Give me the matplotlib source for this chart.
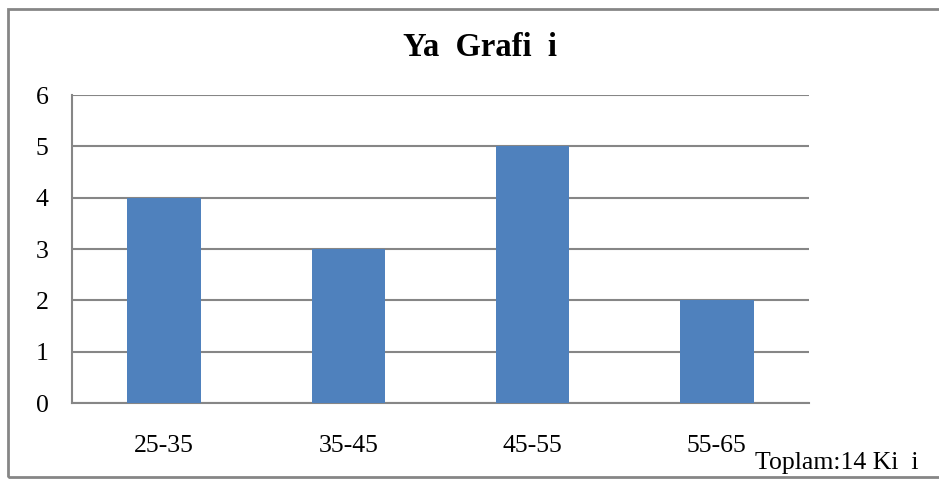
import matplotlib.pyplot as plt
from matplotlib.patches import Rectangle

categories = ["25-35", "35-45", "45-55", "55-65"]
counts = [4, 3, 5, 2]
y_ticks = [0, 1, 2, 3, 4, 5, 6]
title_text = "Ya  Grafi  i"
total_text = "Toplam:14 Ki  i"

W, H = 939, 479
plt.rcParams['font.family'] = ['Liberation Serif', 'DejaVu Serif']

fig = plt.figure(figsize=(W / 100, H / 100), dpi=100)
ax = fig.add_axes([72 / W, 1 - 403 / H, (809 - 72) / W, (403 - 95) / H])

grid_col = '#868686'
ax.bar(categories, counts, width=0.4, color='#4F81BD', zorder=3)
ax.set_xlim(-0.5, len(categories) - 0.5)
ax.set_ylim(0, 6)
ax.set_yticks(y_ticks)
ax.yaxis.grid(True, color=grid_col, linewidth=1.5, zorder=0)
for side in ['top', 'right']:
    ax.spines[side].set_visible(False)
for side in ['left', 'bottom']:
    ax.spines[side].set_color(grid_col)
    ax.spines[side].set_linewidth(1.5)
ax.tick_params(axis='y', length=0, pad=17, labelsize=18.5)
ax.tick_params(axis='x', length=0, pad=23, labelsize=18.5)

# outer chart frame
fig.patches.append(Rectangle((8 / W, 1 - 477 / H), 950 / W, (477 - 9) / H,
                             transform=fig.transFigure, fill=False,
                             edgecolor=grid_col, linewidth=2, clip_on=False))

fig.text(480 / W, 1 - 47 / H, title_text, ha='center', va='center',
         fontsize=23.5, fontweight='bold')
fig.text(755 / W, 1 - 469 / H, total_text, ha='left', va='baseline', fontsize=18.5)

fig.savefig('out.png', dpi=100)
